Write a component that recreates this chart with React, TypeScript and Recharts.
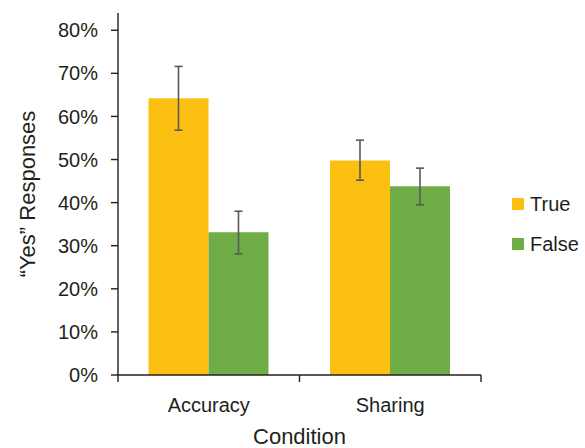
import React from 'react';
import { BarChart, Bar, XAxis, YAxis, ErrorBar, Label } from 'recharts';

const categories = ['Accuracy', 'Sharing'];
const seriesNames = ['True', 'False'];
const seriesColors = ['#FBC012', '#70AD47'];
const trueValues = [0.642, 0.498];
const trueLow = [0.568, 0.452];
const trueHigh = [0.716, 0.545];
const falseValues = [0.331, 0.438];
const falseLow = [0.281, 0.395];
const falseHigh = [0.380, 0.480];
const yTicks = [0, 0.1, 0.2, 0.3, 0.4, 0.5, 0.6, 0.7, 0.8];

const data = categories.map((c, i) => ({
  name: c,
  t: trueValues[i],
  tErr: [trueValues[i] - trueLow[i], trueHigh[i] - trueValues[i]],
  f: falseValues[i],
  fErr: [falseValues[i] - falseLow[i], falseHigh[i] - falseValues[i]],
}));

const FONT = "'Liberation Sans', Arial, sans-serif";
const TEXT = '#231F20';
const AXIS = '#231F20';

const CatTick = (props: any) => {
  const { x, y, payload, index, width, visibleTicksCount } = props;
  const bw = width / visibleTicksCount;
  return (
    <g>
      <line x1={x - bw / 2} x2={x - bw / 2} y1={y} y2={y + 7} stroke={AXIS} strokeWidth={1.4} />
      {index === visibleTicksCount - 1 && (
        <line x1={x + bw / 2} x2={x + bw / 2} y1={y} y2={y + 7} stroke={AXIS} strokeWidth={1.4} />
      )}
      <text x={x} y={y + 37} textAnchor="middle" fontSize={20} fill={TEXT} fontFamily={FONT}>
        {payload.value}
      </text>
    </g>
  );
};

const YTitle = (props: any) => {
  const { viewBox } = props;
  const cx = viewBox.x + 35;
  const cy = 194;
  return (
    <text x={cx} y={cy} transform={`rotate(-90 ${cx} ${cy})`} textAnchor="middle" fontSize={22} fill={TEXT} fontFamily={FONT}>
      “Yes” Responses
    </text>
  );
};

export default function App() {
  return (
    <div style={{ position: 'absolute', left: 0, top: 0, width: 585, height: 448, background: '#fff', fontFamily: FONT }}>
      <BarChart width={585} height={448} data={data} margin={{ top: 13, right: 104, bottom: 0, left: 0 }} barCategoryGap="16.8%" barGap={0}>
        <XAxis
          dataKey="name"
          height={73}
          tickSize={0}
          tickMargin={0}
          tickLine={false}
          axisLine={{ stroke: AXIS, strokeWidth: 1.4 }}
          tick={<CatTick />}
          interval={0}
        >
          <Label value="Condition" position="insideBottom" offset={4} fontSize={22} fill={TEXT} fontFamily={FONT} />
        </XAxis>
        <YAxis
          width={118}
          domain={[0, 0.84]}
          ticks={yTicks}
          tickFormatter={(v: number) => `${Math.round(v * 100)}%`}
          tickSize={7}
          tickMargin={13}
          tick={{ fontSize: 20, fill: TEXT, fontFamily: FONT }}
          tickLine={{ stroke: AXIS, strokeWidth: 1.4 }}
          axisLine={{ stroke: AXIS, strokeWidth: 1.4 }}
          allowDataOverflow
        >
          <Label content={<YTitle />} />
        </YAxis>
        <Bar dataKey="t" name={seriesNames[0]} fill={seriesColors[0]} isAnimationActive={false}>
          <ErrorBar dataKey="tErr" width={4} stroke="#595959" strokeWidth={1.6} />
        </Bar>
        <Bar dataKey="f" name={seriesNames[1]} fill={seriesColors[1]} isAnimationActive={false}>
          <ErrorBar dataKey="fErr" width={4} stroke="#595959" strokeWidth={1.6} />
        </Bar>
      </BarChart>
      <div style={{ position: 'absolute', left: 512, top: 192 }}>
        {seriesNames.map((n, i) => (
          <div key={n} style={{ display: 'flex', alignItems: 'center', height: 24, marginBottom: 16 }}>
            <div style={{ width: 12, height: 12, background: seriesColors[i], marginRight: 6 }} />
            <span style={{ fontSize: 20, color: TEXT, fontFamily: FONT }}>{n}</span>
          </div>
        ))}
      </div>
    </div>
  );
}
